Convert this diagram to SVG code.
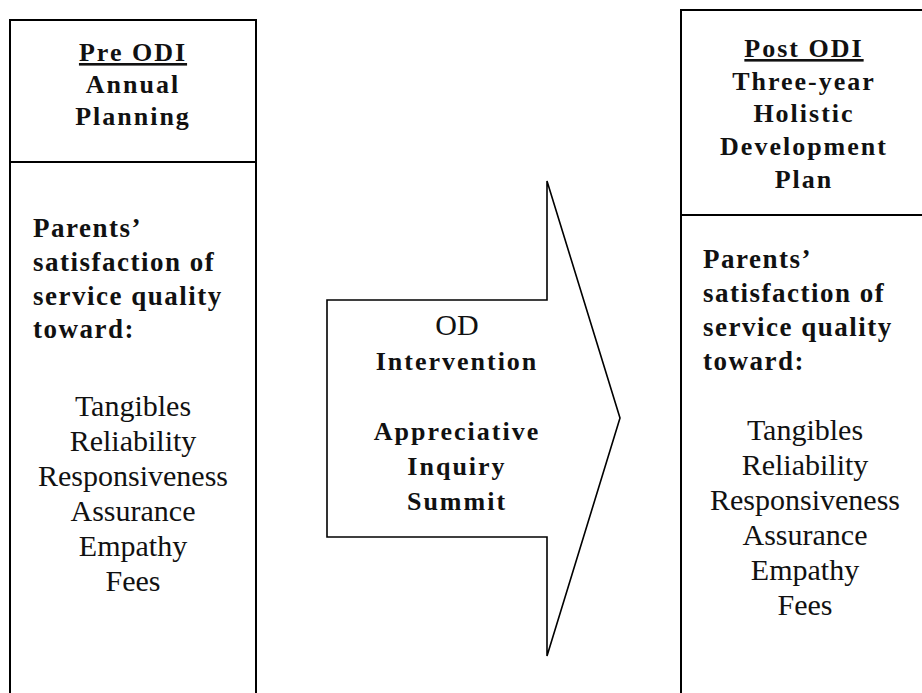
<svg xmlns="http://www.w3.org/2000/svg" width="922" height="693" viewBox="0 0 922 693">
  <style>
    .frame { fill: none; stroke: #000; stroke-width: 2; }
    .arrow { fill: #fff; stroke: #000; stroke-width: 1.6; stroke-linejoin: miter; }
    text { font-family: "Liberation Serif", "Times New Roman", serif; fill: #111; }
    .head { font-size: 26px; font-weight: bold; letter-spacing: 2px; text-anchor: middle; }
    .body { font-size: 27px; font-weight: bold; letter-spacing: 1.5px; }
    .item { font-size: 30px; text-anchor: middle; }
    .u { text-decoration: underline; }
  </style>

  <rect width="922" height="693" fill="#fff"/>

  <!-- Pre ODI column: box runs off the bottom edge -->
  <g id="pre-odi">
    <path class="frame" d="M10,700 V20 H256 V700"/>
    <line class="frame" x1="10" y1="162" x2="256" y2="162"/>
    <text class="head" x="133" y="61"><tspan class="u">Pre ODI</tspan></text>
    <text class="head" x="133" y="93">Annual</text>
    <text class="head" x="133" y="125">Planning</text>
    <text class="body" x="33" y="237">Parents’</text>
    <text class="body" x="33" y="271">satisfaction of</text>
    <text class="body" x="33" y="305">service quality</text>
    <text class="body" x="33" y="338">toward:</text>
    <text class="item" x="133" y="416">Tangibles</text>
    <text class="item" x="133" y="451">Reliability</text>
    <text class="item" x="133" y="486">Responsiveness</text>
    <text class="item" x="133" y="521">Assurance</text>
    <text class="item" x="133" y="556">Empathy</text>
    <text class="item" x="133" y="591">Fees</text>
  </g>

  <!-- Block arrow carrying the intervention label -->
  <g id="connectors">
    <g id="od-intervention">
      <path class="arrow" d="M327,300 H547 V181 L620,418 L547,656 V537 H327 Z"/>
      <text class="item" x="457" y="335">OD</text>
      <text class="head" x="457" y="370">Intervention</text>
      <text class="head" x="457" y="440">Appreciative</text>
      <text class="head" x="457" y="475">Inquiry</text>
      <text class="head" x="457" y="510">Summit</text>
    </g>
  </g>

  <!-- Post ODI column: box runs off the right and bottom edges -->
  <g id="post-odi">
    <path class="frame" d="M681,700 V10 H930"/>
    <line class="frame" x1="681" y1="215" x2="930" y2="215"/>
    <text class="head" x="804" y="57"><tspan class="u">Post ODI</tspan></text>
    <text class="head" x="804" y="90">Three-year</text>
    <text class="head" x="804" y="122">Holistic</text>
    <text class="head" x="804" y="155">Development</text>
    <text class="head" x="804" y="188">Plan</text>
    <text class="body" x="703" y="268">Parents’</text>
    <text class="body" x="703" y="302">satisfaction of</text>
    <text class="body" x="703" y="336">service quality</text>
    <text class="body" x="703" y="370">toward:</text>
    <text class="item" x="805" y="440">Tangibles</text>
    <text class="item" x="805" y="475">Reliability</text>
    <text class="item" x="805" y="510">Responsiveness</text>
    <text class="item" x="805" y="545">Assurance</text>
    <text class="item" x="805" y="580">Empathy</text>
    <text class="item" x="805" y="615">Fees</text>
  </g>
</svg>
